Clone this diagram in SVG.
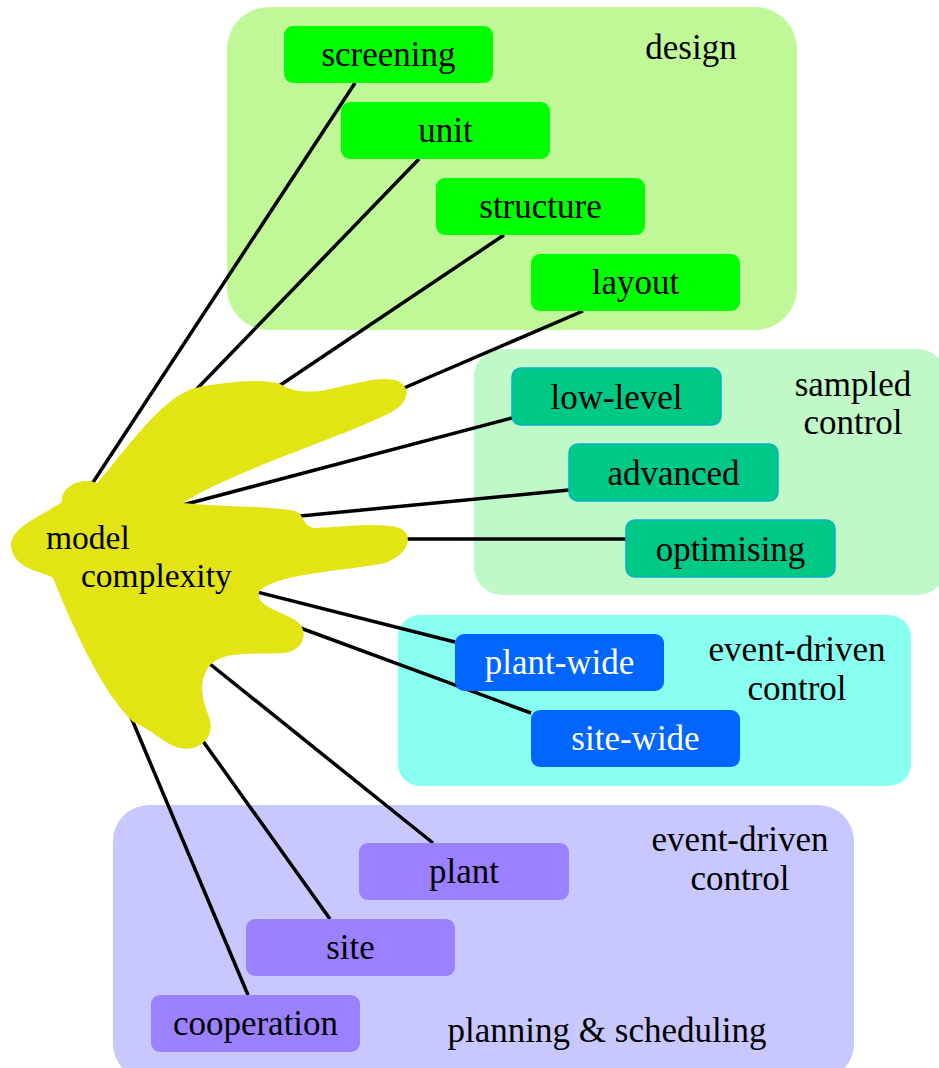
<svg xmlns="http://www.w3.org/2000/svg" width="939" height="1068" viewBox="0 0 939 1068">
  <style>
    text { font-family: "Liberation Serif", "Times New Roman", serif; font-size: 35px; fill: #000; }
    .c { text-anchor: middle; }
    .w { fill: #ffffff; }
    .blob-label { font-size: 33.5px; }
    .node { stroke: none; }
    .design { fill: #00ff00; }
    .sampled { fill: #00c887; stroke: #00b4c8; stroke-width: 1.5; }
    .event { fill: #0066ff; }
    .plan { fill: #9b80ff; }
    .edge { stroke: #000; stroke-width: 3.5; fill: none; }
  </style>

  <!-- group backgrounds -->
  <g id="groups">
    <rect x="227" y="7" width="570" height="323" rx="42" fill="#c0f898"/>
    <rect x="474" y="349" width="472" height="246" rx="28" fill="#c0f8c8"/>
    <rect x="398" y="615" width="513" height="171" rx="22" fill="#88fff0"/>
    <rect x="113" y="805" width="741" height="275" rx="36" fill="#c8c8ff"/>
    <text class="c" x="691" y="59">design</text>
    <text class="c" x="853" y="396">sampled</text>
    <text class="c" x="853" y="434">control</text>
    <text class="c" x="797" y="661">event-driven</text>
    <text class="c" x="797" y="700">control</text>
    <text class="c" x="740" y="851">event-driven</text>
    <text class="c" x="740" y="890">control</text>
    <text class="c" x="607" y="1042">planning &amp; scheduling</text>
  </g>

  <!-- connectors from the central blob -->
  <g id="connectors">
    <line class="edge" x1="88" y1="490" x2="355" y2="83"/>
    <line class="edge" x1="190" y1="396" x2="419" y2="159"/>
    <line class="edge" x1="270" y1="392" x2="504" y2="235"/>
    <line class="edge" x1="390" y1="394" x2="583" y2="311"/>
    <line class="edge" x1="175" y1="507" x2="512" y2="418"/>
    <line class="edge" x1="290" y1="517" x2="569" y2="490"/>
    <line class="edge" x1="395" y1="539" x2="626" y2="539"/>
    <line class="edge" x1="245" y1="589" x2="455" y2="642"/>
    <line class="edge" x1="295" y1="626" x2="531" y2="713"/>
    <line class="edge" x1="200" y1="656" x2="433" y2="843"/>
    <line class="edge" x1="195" y1="730" x2="330" y2="919"/>
    <line class="edge" x1="128" y1="710" x2="248" y2="995"/>
  </g>

  <!-- central blob -->
  <g id="model-complexity">
    <path fill="#e3e414" d="M 62,502
      C 60,488 80,476 97,483
      C 125,452 160,398 195,388
      C 225,382 260,378 280,384
      C 290,390 300,393 320,391
      C 350,386 375,376 395,380
      C 412,385 410,403 390,413
      C 340,438 230,472 183,503
      C 220,507 270,506 295,511
      C 305,514 302,527 315,528
      C 345,527 380,522 400,528
      C 415,536 408,555 385,563
      C 340,572 285,572 260,590
      C 252,605 280,611 295,620
      C 310,630 305,650 285,653
      C 250,655 225,650 210,665
      C 195,685 205,705 210,720
      C 215,740 195,752 180,748
      C 165,745 150,728 133,722
      C 100,690 70,620 53,578
      C 40,570 15,570 11,547
      C 10,527 40,517 62,502 Z"/>
    <text class="blob-label" x="46" y="549">model</text>
    <text class="blob-label" x="81" y="587">complexity</text>
  </g>

  <!-- design -->
  <g id="screening"><rect class="node design" x="284" y="26" width="209" height="57" rx="9"/><text class="c" x="388.5" y="66">screening</text></g>
  <g id="unit"><rect class="node design" x="341" y="102" width="209" height="57" rx="9"/><text class="c" x="445.5" y="142">unit</text></g>
  <g id="structure"><rect class="node design" x="436" y="178" width="209" height="57" rx="9"/><text class="c" x="540.5" y="218">structure</text></g>
  <g id="layout"><rect class="node design" x="531" y="254" width="209" height="57" rx="9"/><text class="c" x="635.5" y="294">layout</text></g>

  <!-- sampled control -->
  <g id="low-level"><rect class="sampled" x="512" y="368" width="209" height="57" rx="9"/><text class="c" x="616.5" y="409">low-level</text></g>
  <g id="advanced"><rect class="sampled" x="569" y="444" width="209" height="57" rx="9"/><text class="c" x="673.5" y="485">advanced</text></g>
  <g id="optimising"><rect class="sampled" x="626" y="520" width="209" height="57" rx="9"/><text class="c" x="730.5" y="561">optimising</text></g>

  <!-- event-driven control -->
  <g id="plant-wide"><rect class="node event" x="455" y="634" width="209" height="57" rx="9"/><text class="c w" x="559.5" y="674">plant-wide</text></g>
  <g id="site-wide"><rect class="node event" x="531" y="710" width="209" height="57" rx="9"/><text class="c w" x="635.5" y="750">site-wide</text></g>

  <!-- planning & scheduling -->
  <g id="plant"><rect class="node plan" x="359" y="843" width="210" height="57" rx="9"/><text class="c" x="464" y="883">plant</text></g>
  <g id="site"><rect class="node plan" x="246" y="919" width="209" height="57" rx="9"/><text class="c" x="350.5" y="959">site</text></g>
  <g id="cooperation"><rect class="node plan" x="151" y="995" width="209" height="57" rx="9"/><text class="c" x="255.5" y="1035">cooperation</text></g>
</svg>
